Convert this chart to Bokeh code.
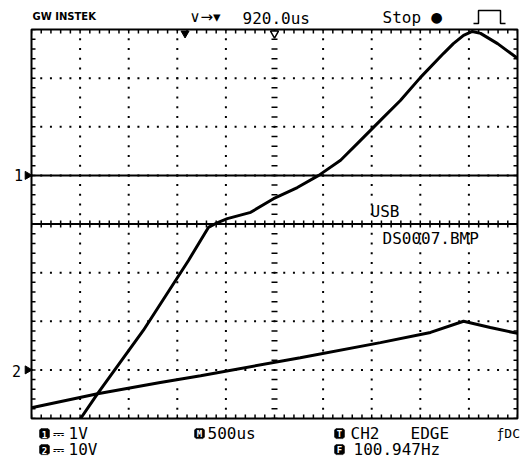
import numpy as np
from bokeh.plotting import figure
from bokeh.models import Range1d, Span
from bokeh.core.properties import value
from bokeh.embed import file_html
from bokeh.resources import INLINE

# ---- scope settings -------------------------------------------------------
time_per_div_us = 500.0      # M 500us
h_position_us = 920.0        # horizontal position shown in header
ch1_volts_per_div = 1.0      # CH1 1V
ch1_offset_div = 1.0         # CH1 ground marker
ch2_volts_per_div = 10.0     # CH2 10V
ch2_offset_div = -3.0        # CH2 ground marker

# ---- traces (time in us, volts) ------------------------------------------
ch1_t_us = [-1075, -900, -430, 35, 240, 335, 435, 675, 910, 1155, 1375, 1600,
            1805, 2010, 2215, 2420, 2660, 2760, 2865, 2955, 3040, 3215, 3350, 3420]
ch1_v = [-5.0, -4.49, -3.19, -1.75, -1.07, -0.97, -0.89, -0.76, -0.48, -0.25, 0.0, 0.31,
         0.72, 1.13, 1.54, 2.01, 2.51, 2.71, 2.88, 2.96, 2.92, 2.71, 2.51, 2.41]

ch2_t_us = [-1580, -900, -255, 160, 1185, 2010, 2525, 2865, 3140, 3420]
ch2_v = [-7.8, -4.9, -2.6, -1.2, 2.5, 5.6, 7.7, 10.0, 8.7, 7.5]

# ---- texts -----------------------------------------------------------------
header_brand = "GW INSTEK"
header_pos = "920.0us"
header_state = "Stop"
file_texts = ["USB", "DS0007.BMP"]
ch1_scale_text = "1V"
ch2_scale_text = "10V"
time_scale_text = "500us"
trigger_texts = ["CH2", "EDGE", "ƒDC"]
freq_text = "100.947Hz"

MONO = "DejaVu Sans Mono"
N_X_DIV, N_Y_DIV = 10, 8

p = figure(width=522, height=465,
           x_range=Range1d(-N_X_DIV / 2, N_X_DIV / 2),
           y_range=Range1d(-N_Y_DIV / 2, N_Y_DIV / 2),
           output_backend="svg", toolbar_location=None,
           x_axis_location=None, y_axis_location=None,
           min_border_left=31, min_border_right=5,
           min_border_top=29, min_border_bottom=47,
           background_fill_color="white", border_fill_color="white")
p.grid.visible = False
p.outline_line_color = "black"
p.outline_line_width = 2

p.extra_x_ranges = {"time": Range1d(h_position_us - 5 * time_per_div_us,
                                    h_position_us + 5 * time_per_div_us)}
p.extra_y_ranges = {
    "ch1": Range1d((-4 - ch1_offset_div) * ch1_volts_per_div, (4 - ch1_offset_div) * ch1_volts_per_div),
    "ch2": Range1d((-4 - ch2_offset_div) * ch2_volts_per_div, (4 - ch2_offset_div) * ch2_volts_per_div),
}

# ---- graticule -------------------------------------------------------------
gx_dots, gy_dots = [], []
minor_y = np.arange(-20, 21) / 5.0
minor_x = np.arange(-25, 26) / 5.0
for gx in [-4, -3, -2, -1, 1, 2, 3, 4]:
    gx_dots += [gx] * len(minor_y)
    gy_dots += list(minor_y)
for gy in [-3, -2, -1, 1, 2, 3]:
    gx_dots += list(minor_x)
    gy_dots += [gy] * len(minor_x)
p.scatter(gx_dots, gy_dots, marker="square", size=2, color="black", line_width=0)

# centre cross
p.add_layout(Span(location=0, dimension="width", line_color="black", line_width=2))
p.scatter(minor_x, [0] * len(minor_x), marker="dash", angle=np.pi / 2, size=7,
          line_color="black", line_width=1.5)
p.scatter([0] * len(minor_y), minor_y, marker="dash", size=6,
          line_color="black", line_width=1.5)
# border ticks (half of each dash is clipped by the frame)
p.scatter(minor_x, [4] * len(minor_x), marker="dash", angle=np.pi / 2, size=8, line_color="black", line_width=1.5)
p.scatter(minor_x, [-4] * len(minor_x), marker="dash", angle=np.pi / 2, size=8, line_color="black", line_width=1.5)
p.scatter([-5] * len(minor_y), minor_y, marker="dash", size=8, line_color="black", line_width=1.5)
p.scatter([5] * len(minor_y), minor_y, marker="dash", size=8, line_color="black", line_width=1.5)

# CH1 ground reference line
p.add_layout(Span(location=0, dimension="width", y_range_name="ch1",
                  line_color="black", line_width=2))

# ---- traces ----------------------------------------------------------------
p.line(ch1_t_us, ch1_v, x_range_name="time", y_range_name="ch1",
       line_color="black", line_width=3)
p.line(ch2_t_us, ch2_v, x_range_name="time", y_range_name="ch2",
       line_color="black", line_width=3)

# trigger-point marker (t = 0) and screen centre marker
p.scatter([0], [3.92], x_range_name="time", marker="inverted_triangle", size=8, color="black")
p.scatter([0], [3.92], marker="inverted_triangle", size=8, fill_color="white",
          line_color="black", line_width=1.5)

PX = 48.6


def dx(px):
    return (px - 274) / PX


def dy(py):
    return (223.5 - py) / PX


# channel ground markers on the left edge
r = p.scatter([dx(27), dx(27)], [ch1_offset_div, ch2_offset_div], marker="triangle",
              angle=-np.pi / 2, size=8, color="black")
r.level = "overlay"

# pulse (rising edge) icon in header
r = p.line([dx(473), dx(478), dx(478), dx(500), dx(500), dx(505)],
           [dy(23), dy(23), dy(10), dy(10), dy(23), dy(23)], line_color="black", line_width=1.5)
r.level = "overlay"


def txt(s, px, py, size=16, align="left", color="black", bold=False, font=MONO):
    r = p.text(x=[dx(px)], y=[dy(py)], text=[s], text_align=align, text_baseline="middle",
               text_font=value(font), text_font_size=f"{size}px", text_color=color,
               text_font_style="bold" if bold else "normal")
    r.level = "overlay"


def badge(s, px, py):
    h = 5
    c = 1.5
    bx = [px - h + c, px + h - c, px + h, px + h, px + h - c, px - h + c, px - h, px - h]
    by = [py - h, py - h, py - h + c, py + h - c, py + h, py + h, py + h - c, py - h + c]
    r = p.patch([dx(v) for v in bx], [dy(v) for v in by], color="black", line_width=0.5)
    r.level = "overlay"
    txt(s, px, py + 0.5, size=9, align="center", color="white", bold=True)


# header
txt(header_brand, 32, 16, size=10, bold=True, font="DejaVu Sans")
txt("∨→▾", 189, 17, size=15, font="DejaVu Sans")
txt(header_pos, 242, 18, size=16)
txt(header_state, 382, 17, size=16)
txt("●", 436, 17, size=14, align="center", font="DejaVu Sans")

# channel numbers
txt("1", 18, 175, size=15, align="center")
txt("2", 16, 370, size=15, align="center")

# file save message
txt(file_texts[0], 370, 211, size=16)
txt(file_texts[1], 382, 238, size=16)

# footer
badge("1", 44, 433)
txt("⎓", 52, 433, size=14, font="DejaVu Sans")
txt(ch1_scale_text, 68, 433)
badge("2", 44, 449)
txt("⎓", 52, 449, size=14, font="DejaVu Sans")
txt(ch2_scale_text, 68, 449)
badge("M", 199, 433)
txt(time_scale_text, 207, 433)
badge("T", 339, 433)
txt(trigger_texts[0], 350, 433)
txt(trigger_texts[1], 410, 433)
txt(trigger_texts[2], 496, 433, size=13)
badge("F", 339, 449)
txt(freq_text, 353, 449)

open("out.html", "w").write(file_html(p, INLINE))
